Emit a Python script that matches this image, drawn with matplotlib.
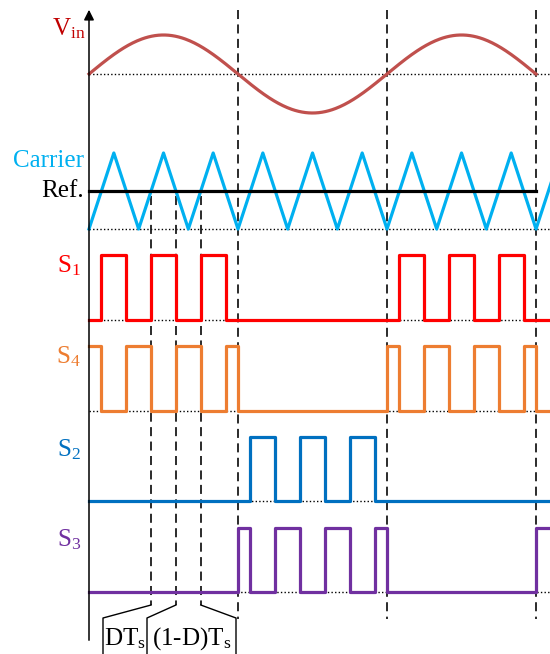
import numpy as np
import matplotlib.pyplot as plt

plt.rcParams['font.family'] = ['Liberation Serif', 'DejaVu Serif']
plt.rcParams['mathtext.fontset'] = 'custom'
plt.rcParams['mathtext.rm'] = 'Liberation Serif'
plt.rcParams['mathtext.it'] = 'Liberation Serif:italic'

# time in switching periods Ts, one line cycle = 6 Ts
vin_period = 6.0
carrier_t = [0, 0.5, 1, 1.5, 2, 2.5, 3, 3.5, 4, 4.5, 5, 5.5, 6, 6.5, 7, 7.5, 8, 8.5, 9, 9.5]
carrier_v = [0, 1, 0, 1, 0, 1, 0, 1, 0, 1, 0, 1, 0, 1, 0, 1, 0, 1, 0, 1]
ref_level = 0.5

s1_t = [0, 0.25, 0.75, 1.25, 1.75, 2.25, 2.75, 6.25, 6.75, 7.25, 7.75, 8.25, 8.75]
s1_v = [0, 1, 0, 1, 0, 1, 0, 1, 0, 1, 0, 1, 0]
s4_t = [0, 0.25, 0.75, 1.25, 1.75, 2.25, 2.75, 3, 6, 6.25, 6.75, 7.25, 7.75, 8.25, 8.75, 9]
s4_v = [1, 0, 1, 0, 1, 0, 1, 0, 1, 0, 1, 0, 1, 0, 1, 0]
s2_t = [0, 3.25, 3.75, 4.25, 4.75, 5.25, 5.75]
s2_v = [0, 1, 0, 1, 0, 1, 0]
s3_t = [0, 3, 3.25, 3.75, 4.25, 4.75, 5.25, 5.75, 6, 9]
s3_v = [0, 1, 0, 1, 0, 1, 0, 1, 0, 1]

# layout: x origin / Ts width in pixels, rows as (baseline, height) in pixels
X0, TS = 89, 49.67
T_END = (550 - X0) / TS
rows = {'vin': (74, 39), 'car': (229, 76), 's1': (320, 65), 's4': (411, 65),
        's2': (501, 64), 's3': (592, 64)}

def px(x):
    return (x - X0) / TS

def ypos(row, v):
    base, h = rows[row]
    return base - np.asarray(v, dtype=float) * h

fig = plt.figure(figsize=(5.5, 6.54), dpi=100)
ax = fig.add_axes([0, 0, 1, 1])
ax.set_xlim(-X0 / TS, T_END)
ax.set_ylim(654, 0)
ax.axis('off')

dot = dict(color='k', lw=1.0, ls=(0, (1, 1.6)))
dash = dict(color='#1a1a1a', lw=1.3, ls=(0, (5, 3)))

# zero lines
for r in rows:
    ax.plot([0, T_END], [rows[r][0]] * 2, **dot, zorder=1)

# vertical axis with arrow
ax.annotate('', xy=(0, 7), xytext=(0, 643),
            arrowprops=dict(arrowstyle='-|>', lw=1.1, color='k', mutation_scale=15))

# half-cycle boundaries
for tb in [3, 6, 9]:
    ax.plot([tb, tb], [10, 619], **dash, zorder=1)

# Ts marks and bracket
for tb in [1.25, 1.75, 2.25]:
    ax.plot([tb, tb], [196, 605], **dash, zorder=1)
for tb, xb in [(1.25, 103), (1.75, 147), (2.25, 236)]:
    ax.plot([tb, px(xb), px(xb)], [605, 618, 660], color='k', lw=1.0, clip_on=False)

lw = 2.3
tv = np.linspace(0, 9, 400)
ax.plot(tv, ypos('vin', np.sin(2 * np.pi * tv / vin_period)), color='#C0504D', lw=lw)
ax.plot(carrier_t, ypos('car', carrier_v), color='#00B0F0', lw=lw)
ax.plot([0, 9], ypos('car', [ref_level, ref_level]), color='k', lw=lw)

for key, t, v, c in [('s1', s1_t, s1_v, '#FF0000'), ('s4', s4_t, s4_v, '#ED7D31'),
                     ('s2', s2_t, s2_v, '#0070C0'), ('s3', s3_t, s3_v, '#7030A0')]:
    ax.step(list(t) + [T_END], ypos(key, list(v) + [v[-1]]), where='post', color=c, lw=lw)

fs = 18
ax.text(px(86), 35, r'V$_\mathrm{in}$', color='#C00000', fontsize=fs, ha='right', va='baseline')
ax.text(px(84), 167, 'Carrier', color='#00B0F0', fontsize=fs, ha='right', va='baseline')
ax.text(px(84), 197, 'Ref.', color='k', fontsize=fs, ha='right', va='baseline')
for key, lab, yb, c in [('s1', r'S$_\mathrm{1}$', 272, '#FF0000'), ('s4', r'S$_\mathrm{4}$', 363, '#ED7D31'),
                        ('s2', r'S$_\mathrm{2}$', 456, '#0070C0'), ('s3', r'S$_\mathrm{3}$', 546, '#7030A0')]:
    ax.text(px(81), yb, lab, color=c, fontsize=fs, ha='right', va='baseline')

ax.text(px(125), 645, r'DT$_\mathrm{s}$', fontsize=fs, ha='center', va='baseline')
ax.text(px(191.5), 645, r'(1-D)T$_\mathrm{s}$', fontsize=fs, ha='center', va='baseline')

fig.savefig('out.png', dpi=100)
